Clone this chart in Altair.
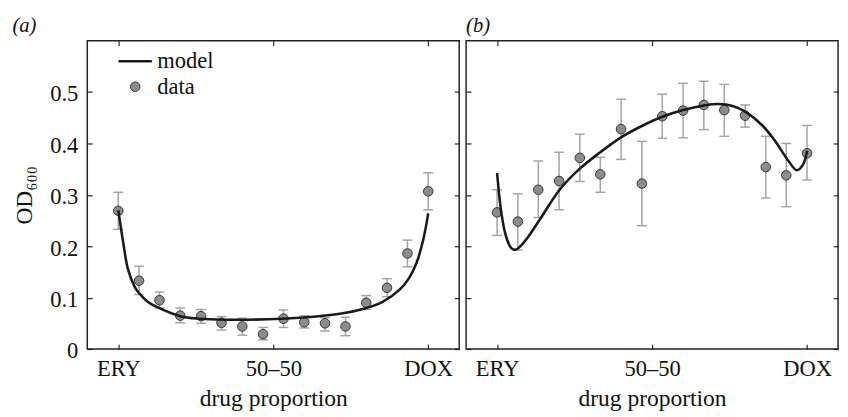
import altair as alt
import pandas as pd

# ---------------- data ----------------
dose = [0.0, 0.067, 0.133, 0.2, 0.267, 0.333, 0.4, 0.467,
        0.533, 0.6, 0.667, 0.733, 0.8, 0.867, 0.933, 1.0]

a_mean = [0.269, 0.133, 0.095, 0.065, 0.064, 0.051, 0.044, 0.029,
          0.059, 0.052, 0.050, 0.044, 0.090, 0.119, 0.186, 0.307]
a_lo = [0.233, 0.106, 0.080, 0.051, 0.050, 0.037, 0.027, 0.018,
        0.042, 0.041, 0.035, 0.026, 0.077, 0.102, 0.160, 0.271]
a_hi = [0.305, 0.161, 0.111, 0.080, 0.077, 0.063, 0.060, 0.042,
        0.076, 0.065, 0.061, 0.062, 0.104, 0.137, 0.212, 0.343]

b_mean = [0.266, 0.248, 0.310, 0.327, 0.372, 0.340, 0.428, 0.322,
          0.453, 0.464, 0.475, 0.465, 0.454, 0.354, 0.338, 0.381]
b_lo = [0.221, 0.193, 0.256, 0.271, 0.326, 0.305, 0.369, 0.240,
        0.410, 0.411, 0.427, 0.414, 0.432, 0.294, 0.277, 0.329]
b_hi = [0.310, 0.302, 0.366, 0.383, 0.418, 0.373, 0.486, 0.404,
        0.496, 0.517, 0.521, 0.515, 0.475, 0.414, 0.400, 0.435]

model_a_x = [0.0, 0.016, 0.031, 0.053, 0.068, 0.095, 0.131, 0.2, 0.263,
             0.347, 0.42, 0.527, 0.631, 0.72, 0.789, 0.853, 0.907, 0.937,
             0.963, 0.984, 1.0]
model_a_y = [0.270, 0.207, 0.156, 0.121, 0.108, 0.092, 0.080, 0.064, 0.059,
             0.057, 0.057, 0.059, 0.063, 0.069, 0.078, 0.092, 0.115, 0.137,
             0.169, 0.213, 0.264]

model_b_x = [0.0, 0.014, 0.029, 0.045, 0.058, 0.075, 0.1, 0.14, 0.203, 0.267,
             0.333, 0.4, 0.467, 0.533, 0.6, 0.667, 0.713, 0.76, 0.803, 0.856,
             0.898, 0.94, 0.967, 0.987, 1.0]
model_b_y = [0.343, 0.264, 0.219, 0.197, 0.193, 0.200, 0.218, 0.254, 0.311, 0.351,
             0.383, 0.412, 0.434, 0.452, 0.465, 0.474, 0.477, 0.473, 0.461, 0.435,
             0.404, 0.366, 0.348, 0.359, 0.386]

x_tick_values = [0, 0.5, 1]
x_tick_labels = ["ERY", "50–50", "DOX"]
y_tick_values = [0, 0.1, 0.2, 0.3, 0.4, 0.5]
legend_kinds = ["model", "data"]

# ---------------- styling ----------------
FONT = "'Liberation Serif', 'Times New Roman', Times, 'Nimbus Roman', serif"
LFS = 23   # tick / legend labels
TFS = 24   # axis titles
INK = "#111111"

label_expr = " : ".join(
    f"datum.value == {v} ? '{t}'" for v, t in zip(x_tick_values[:-1], x_tick_labels[:-1])
) + f" : '{x_tick_labels[-1]}'"


def panel(mean, lo, hi, mx, my, title, frame, xmax, width, ylabels, legend):
    pts = pd.DataFrame({"x": dose, "y": mean, "lo": lo, "hi": hi, "kind": "data"})
    mdl = pd.DataFrame({"x": mx, "y": my})
    xs = alt.Scale(domain=[-0.1, xmax], nice=False, zero=False)
    ys = alt.Scale(domain=[0, 0.6], nice=False, zero=False)

    bottom = alt.Axis(orient="bottom", values=x_tick_values, labelExpr=label_expr,
                      title="drug proportion")
    top = alt.Axis(orient="top", values=x_tick_values, labels=False, title=None)
    if ylabels:
        left = alt.Axis(orient="left", values=y_tick_values, format=".1~f",
                        title="OD₆₀₀")
    else:
        left = alt.Axis(orient="left", values=y_tick_values, labels=False, title=None)
    right = alt.Axis(orient="right", values=y_tick_values, labels=False, title=None)

    stems = alt.Chart(pts).mark_rule(color="#a3a3a3", strokeWidth=1.5).encode(
        x=alt.X("x:Q", scale=xs, axis=None),
        y=alt.Y("lo:Q", scale=ys, axis=None),
        y2="hi:Q",
    )
    cap_lo = alt.Chart(pts).mark_tick(orient="horizontal", size=10, thickness=1.5,
                                      color="#a3a3a3", opacity=1).encode(
        x=alt.X("x:Q", scale=xs, axis=None),
        y=alt.Y("lo:Q", scale=ys, axis=None),
    )
    cap_hi = alt.Chart(pts).mark_tick(orient="horizontal", size=10, thickness=1.5,
                                      color="#a3a3a3", opacity=1).encode(
        x=alt.X("x:Q", scale=xs, axis=top),
        y=alt.Y("hi:Q", scale=ys, axis=right),
    )

    if legend:
        leg = alt.Legend(orient="none", legendX=30.5, legendY=10.5, title=None,
                         clipHeight=21, rowPadding=2, padding=0, labelOffset=4,
                         labelFont=FONT, labelFontSize=LFS, labelColor=INK)
        dots = alt.Chart(pts).mark_point(filled=True, opacity=1).encode(
            x=alt.X("x:Q", scale=xs, axis=None),
            y=alt.Y("y:Q", scale=ys, axis=None),
            shape=alt.Shape("kind:N", scale=alt.Scale(domain=legend_kinds,
                                                      range=["stroke", "circle"]), legend=leg),
            fill=alt.Fill("kind:N", scale=alt.Scale(domain=legend_kinds,
                                                    range=["#1a1a1a", "#8c8c8c"]), legend=leg),
            stroke=alt.Stroke("kind:N", scale=alt.Scale(domain=legend_kinds,
                                                        range=["#1a1a1a", "#333333"]), legend=leg),
            size=alt.Size("kind:N", scale=alt.Scale(type="ordinal", domain=legend_kinds,
                                                    range=[1156, 95]), legend=leg),
            strokeWidth=alt.StrokeWidth("kind:N", scale=alt.Scale(type="ordinal", domain=legend_kinds,
                                                                  range=[2.6, 1]), legend=leg),
        )
    else:
        dots = alt.Chart(pts).mark_point(filled=True, opacity=1, shape="circle", size=95,
                                         fill="#8c8c8c", stroke="#333333",
                                         strokeWidth=1).encode(
            x=alt.X("x:Q", scale=xs, axis=None),
            y=alt.Y("y:Q", scale=ys, axis=None),
        )

    line = alt.Chart(mdl).mark_line(color="#1a1a1a", strokeWidth=2.6,
                                    interpolate="catmull-rom").encode(
        x=alt.X("x:Q", scale=xs, axis=bottom),
        y=alt.Y("y:Q", scale=ys, axis=left),
    )

    return alt.layer(stems, cap_lo, cap_hi, dots, line).properties(
        width=width, height=315,
        title=alt.TitleParams(text=title, anchor="start", frame=frame),
    )


pa = panel(a_mean, a_lo, a_hi, model_a_x, model_a_y, "(a)", "bounds", 1.1, 380, True, True)
pb = panel(b_mean, b_lo, b_hi, model_b_x, model_b_y, "(b)", "group", 1.1, 380, False, False)

chart = alt.hconcat(pa, pb, spacing=3).resolve_scale(
    shape="independent", fill="independent", stroke="independent",
    size="independent", strokeWidth="independent",
).properties(
    padding={"left": 3, "top": 1, "right": 0, "bottom": 0},
).configure_view(
    stroke="#222222", strokeWidth=1.5,
).configure_axis(
    labelFont=FONT, labelFontSize=LFS, labelColor=INK,
    titleFont=FONT, titleFontSize=TFS, titleColor=INK, titleFontWeight="normal",
    tickColor="#222222", tickWidth=1.2, tickSize=5, offset=-5,
    domain=False, grid=False,
).configure_axisX(
    labelPadding=9, titlePadding=7,
).configure_axisY(
    labelPadding=9.7, titlePadding=14, labelOffset=2,
).configure_title(
    font=FONT, fontSize=21, fontStyle="italic", fontWeight="normal",
    color=INK, offset=4.7,
)

chart.save("out.html", embed_options={"renderer": "svg", "actions": False})
